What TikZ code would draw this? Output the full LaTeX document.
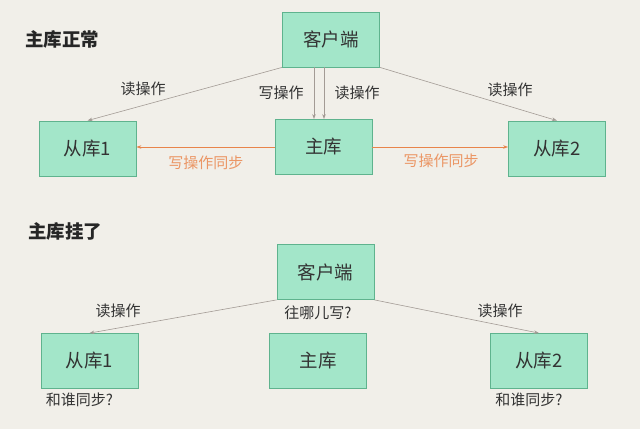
\documentclass[tikz,border=0pt]{standalone}
\usepackage{fontspec}
\setmainfont{Noto Sans CJK SC}
\usepackage{tikz}
\usetikzlibrary{positioning, arrows.meta}

\definecolor{bgpaper}{HTML}{F1EFE9}
\definecolor{boxfill}{HTML}{A3E6C9}
\definecolor{boxline}{HTML}{5FB38E}
\definecolor{linegrey}{HTML}{A39B95}
\definecolor{syncorange}{HTML}{E8844A}
\definecolor{textgrey}{HTML}{333333}

\tikzset{
	dbbox/.style={draw=boxline, fill=boxfill, line width=0.8pt, minimum width=97pt, minimum height=55pt, inner sep=0pt, text=textgrey, font=\fontsize{18.5}{20}\selectfont},
	oplabel/.style={text=textgrey, inner sep=1pt, font=\fontsize{15}{17}\selectfont},
	synclabel/.style={text=syncorange!85, inner sep=1pt, font=\fontsize{15}{17}\selectfont},
	caption/.style={text=black!85, inner sep=0pt, anchor=west, font=\fontsize{18.5}{20}\selectfont\bfseries},
	readarr/.style={draw=linegrey, line width=0.6pt, -{Stealth[length=5pt, width=3.5pt]}},
	syncarr/.style={draw=syncorange, line width=0.7pt, -{Stealth[length=5pt, width=3.5pt]}}
}

\begin{document}
\begin{tikzpicture}[x=1pt, y=-1pt]
	\fill[bgpaper] (0,0) rectangle (640,429);
	\useasboundingbox (0,0) rectangle (640,429);
	
	% master running
	\node[caption] (title1) at (25,39) {主库正常};
	
	\node[dbbox] (cli1) at (331,39.5) {客户端};
	\node[dbbox] (master1) at (323.5,147) {主库};
	\node[dbbox] (slavea1) at (87.5,148.5) {从库1};
	\node[dbbox] (slaveb1) at (557,148.5) {从库2};
	
	\coordinate (wx) at (314,0);
	\coordinate (rx) at (324,0);
	
	\draw[readarr] (cli1.south west) -- (slavea1.north);
	\draw[readarr] (cli1.south east) -- (slaveb1.north);
	\draw[readarr] (cli1.south -| wx) -- (master1.north -| wx);
	\draw[readarr] (cli1.south -| rx) -- (master1.north -| rx);
	\draw[syncarr] (master1.west) -- (master1.west -| slavea1.east);
	\draw[syncarr] (master1.east) -- (master1.east -| slaveb1.west);
	
	\node[oplabel] (readl1) at (143,89) {读操作};
	\node[oplabel] (writel1) at (281,93) {写操作};
	\node[oplabel] (readm1) at (357,93) {读操作};
	\node[oplabel] (readr1) at (510,90) {读操作};
	\node[synclabel, below=8pt of master1.west, anchor=north east, xshift=-30pt] (syncl1) {写操作同步};
	\node[synclabel, below=6pt of master1.east, anchor=north west, xshift=30pt] (syncr1) {写操作同步};
	
	% master down
	\node[caption] (title2) at (28,231) {主库挂了};
	
	\node[dbbox] (cli2) at (325.5,272) {客户端};
	\node[dbbox] (master2) at (318,361) {主库};
	\node[dbbox] (slavea2) at (89.5,361) {从库1};
	\node[dbbox] (slaveb2) at (539,361) {从库2};
	
	\draw[readarr] (cli2.south west) -- (slavea2.north);
	\draw[readarr] (cli2.south east) -- (slaveb2.north);
	
	\node[oplabel] (readl2) at (118,311) {读操作};
	\node[oplabel] (where2) at (318,313) {往哪儿写?};
	\node[oplabel] (readr2) at (500,311) {读操作};
	\node[oplabel, below=3pt of slavea2.south west, anchor=north west, xshift=4pt] (whoa2) {和谁同步?};
	\node[oplabel, below=3pt of slaveb2.south west, anchor=north west, xshift=4pt] (whob2) {和谁同步?};
\end{tikzpicture}
\end{document}
